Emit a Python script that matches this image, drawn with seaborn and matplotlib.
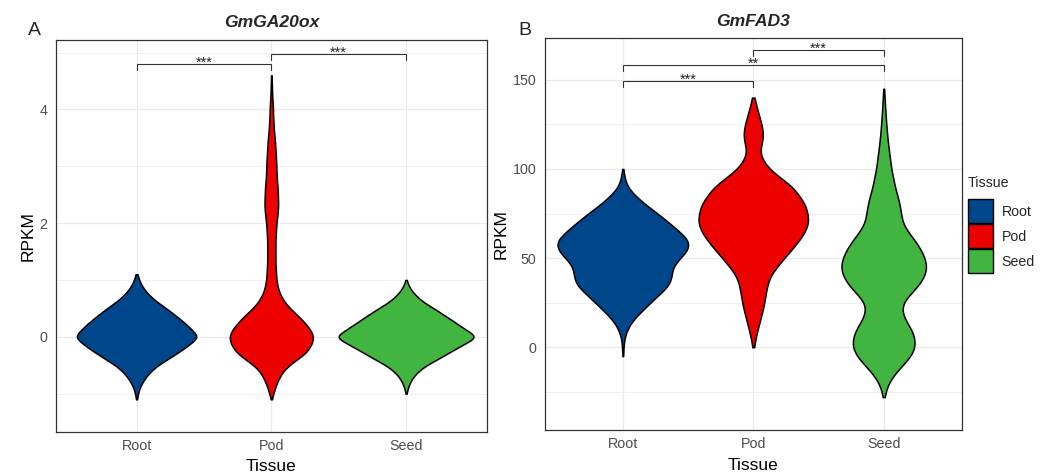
import numpy as np
import pandas as pd
import matplotlib
matplotlib.use("Agg")
import matplotlib.pyplot as plt
from matplotlib.patches import Patch
from matplotlib.ticker import FixedLocator
import seaborn as sns

TISSUES = ["Root", "Pod", "Seed"]
COLORS = ["#00468B", "#ED0000", "#42B540"]

# Panel A: GmGA20ox
A_ROOT_RPKM = [-1.1, -1.0, -0.9, -0.8, -0.7, -0.6, -0.5, -0.4, -0.3, -0.2, -0.1, 0.0,
               0.1, 0.2, 0.3, 0.4, 0.5, 0.6, 0.7, 0.8, 0.9, 1.0, 1.1]
A_ROOT_COUNT = [1, 4, 8, 16, 26, 40, 58, 84, 108, 132, 152, 172,
                156, 140, 122, 102, 82, 59, 40, 25, 14, 7, 2]

A_POD_RPKM = [-1.1, -1.0, -0.9, -0.8, -0.7, -0.6, -0.5, -0.4, -0.3, -0.2, -0.1, 0.0,
              0.1, 0.2, 0.3, 0.4, 0.5, 0.6, 0.7, 0.8, 0.9, 1.0,
              1.1, 1.2, 1.3, 1.4, 1.5, 1.6, 1.7, 1.8, 1.9, 2.0,
              2.1, 2.2, 2.3, 2.4, 2.5, 2.6, 2.7, 2.8, 2.9, 3.0,
              3.1, 3.2, 3.3, 3.4, 3.5, 3.6, 3.7, 3.8, 3.9, 4.0,
              4.1, 4.2, 4.3, 4.4, 4.5, 4.6]
A_POD_COUNT = [1, 6, 11, 17, 25, 35, 52, 75, 98, 112, 120, 124,
               117, 105, 90, 73, 55, 40, 30, 22, 18, 15,
               14, 13, 12, 12, 12, 12, 12, 13, 14, 15,
               17, 19, 20, 20, 19, 19, 17, 16, 15, 15,
               14, 13, 12, 11, 10, 8, 7, 6, 5, 5,
               4, 3, 2, 2, 1, 1]

A_SEED_RPKM = [-1.0, -0.9, -0.8, -0.7, -0.6, -0.5, -0.4, -0.3, -0.2, -0.1, 0.0,
               0.1, 0.2, 0.3, 0.4, 0.5, 0.6, 0.7, 0.8, 0.9, 1.0]
A_SEED_COUNT = [1, 5, 11, 21, 36, 58, 89, 117, 146, 175, 208,
                178, 154, 130, 105, 80, 52, 32, 17, 7, 1]

# Panel B: GmFAD3
B_ROOT_RPKM = [-5, 0, 5, 10, 15, 20, 25, 30, 35, 40, 45, 50, 55, 60, 65, 70, 75, 80, 85, 90, 95, 100]
B_ROOT_COUNT = [1, 2, 4, 12, 27, 52, 78, 105, 133, 139, 140, 162, 188, 188, 160, 130, 99, 64, 35, 12, 5, 1]

B_POD_RPKM = [0, 5, 10, 15, 20, 25, 30, 35, 40, 45, 50, 55, 60, 65, 70, 75, 80, 85, 90, 95,
              100, 105, 110, 115, 120, 125, 130, 135, 140]
B_POD_COUNT = [2, 7, 13, 20, 27, 33, 37, 42, 50, 70, 92, 115, 137, 155, 165, 162, 155, 137, 117, 82,
               47, 28, 18, 27, 30, 25, 17, 10, 3]

B_SEED_RPKM = [-28, -25, -20, -15, -10, -5, 0, 5, 10, 15, 20, 25, 30, 35, 40, 45, 50, 55, 60, 65,
               70, 75, 80, 85, 90, 95, 100, 105, 110, 115, 120, 125, 130, 135, 140, 145]
B_SEED_COUNT = [1, 5, 15, 33, 58, 83, 96, 95, 85, 67, 55, 58, 82, 108, 125, 132, 126, 113, 95, 73,
                57, 53, 49, 42, 34, 29, 23, 20, 16, 13, 10, 8, 6, 4, 3, 1]

# significance brackets
A_SIG_PAIRS = [("Root", "Pod"), ("Pod", "Seed")]
A_SIG_Y = [4.80, 4.97]
A_SIG_LABELS = ["***", "***"]
B_SIG_PAIRS = [("Root", "Pod"), ("Root", "Seed"), ("Pod", "Seed")]
B_SIG_Y = [149.4, 158.1, 166.7]
B_SIG_LABELS = ["***", "**", "***"]

# axes
A_YTICKS = [0, 2, 4]
A_YMINOR = [-1, 1, 3, 5]
A_YLIM = (-1.68, 5.22)
B_YTICKS = [0, 50, 100, 150]
B_YMINOR = [-25, 25, 75, 125]
B_YLIM = (-46.7, 173.3)

# ---------------- style ----------------
sns.set_style("white")
plt.rcParams["font.family"] = ["Liberation Sans", "DejaVu Sans"]

GRID = "#EBEBEB"
DARK = "#333333"
TICKTXT = "#4D4D4D"


def long_form(levels, counts):
    tissue = np.concatenate([np.repeat(t, sum(c)) for t, c in zip(TISSUES, counts)])
    rpkm = np.concatenate([np.repeat(np.asarray(l, float), c) for l, c in zip(levels, counts)])
    return pd.DataFrame({"Tissue": tissue, "RPKM": rpkm})


def fixed_bw(h):
    return lambda kde: h / np.std(kde.dataset, ddof=1)


def panel(ax, df, bw, title, yticks, yminor, ylim, pairs, ys, labels):
    ax.set_axisbelow(True)
    sns.violinplot(data=df, x="Tissue", y="RPKM", hue="Tissue", order=TISSUES,
                   hue_order=TISSUES, palette=dict(zip(TISSUES, COLORS)), saturation=1,
                   inner=None, cut=0, gridsize=400, bw_method=fixed_bw(bw),
                   density_norm="area", common_norm=True, width=1.0, dodge=False,
                   linewidth=1.1, linecolor="black", legend=False, ax=ax)
    ax.set_xlim(-0.6, 2.6)
    ax.set_ylim(*ylim)
    ax.yaxis.set_major_locator(FixedLocator(yticks))
    ax.yaxis.set_minor_locator(FixedLocator(yminor))
    ax.set_yticklabels([str(t) for t in yticks])
    ax.grid(which="major", axis="both", color=GRID, lw=0.9)
    ax.grid(which="minor", axis="y", color=GRID, lw=0.55)
    ax.tick_params(which="minor", length=0)
    ax.tick_params(which="major", length=3.2, width=0.8, color=DARK,
                   labelsize=10.3, labelcolor=TICKTXT)
    ax.tick_params(axis="x", pad=1.8)
    ax.tick_params(axis="y", pad=2.8)
    for s in ax.spines.values():
        s.set_visible(True)
        s.set_color(DARK)
        s.set_linewidth(0.9)
    ax.set_xlabel("Tissue", fontsize=12.5, color="black", labelpad=4.5)
    ax.set_ylabel("RPKM", fontsize=12.5, color="black", labelpad=2.6)
    ax.set_title(title, fontsize=12.6, fontweight="bold", fontstyle="italic", pad=9)

    tick = 0.0155 * (ylim[1] - ylim[0])
    for (a, b), y, lab in zip(pairs, ys, labels):
        xa, xb = TISSUES.index(a), TISSUES.index(b)
        ax.plot([xa, xa, xb, xb], [y - tick, y, y, y - tick], color=DARK, lw=0.8,
                solid_joinstyle="miter", zorder=5)
        ax.annotate(lab, xy=((xa + xb) / 2, y), xytext=(0, -2), textcoords="offset points",
                    ha="center", va="baseline", fontsize=10.5, color="#222222", zorder=6)


fig = plt.figure(figsize=(10.47, 4.75), dpi=100)
axA = fig.add_axes([0.0532, 0.0899, 0.4119, 0.8259])
axB = fig.add_axes([0.5201, 0.0937, 0.3987, 0.8257])

dfA = long_form([A_ROOT_RPKM, A_POD_RPKM, A_SEED_RPKM], [A_ROOT_COUNT, A_POD_COUNT, A_SEED_COUNT])
dfB = long_form([B_ROOT_RPKM, B_POD_RPKM, B_SEED_RPKM], [B_ROOT_COUNT, B_POD_COUNT, B_SEED_COUNT])

panel(axA, dfA, 0.07, "GmGA20ox", A_YTICKS, A_YMINOR, A_YLIM, A_SIG_PAIRS, A_SIG_Y, A_SIG_LABELS)
panel(axB, dfB, 3.5, "GmFAD3", B_YTICKS, B_YMINOR, B_YLIM, B_SIG_PAIRS, B_SIG_Y, B_SIG_LABELS)

fig.text(28 / 1047, 1 - 35 / 475, "A", fontsize=14, va="baseline", ha="left")
fig.text(518 / 1047, 1 - 35 / 475, "B", fontsize=14, va="baseline", ha="left")

# legend
handles = [Patch(facecolor=c, edgecolor="black", linewidth=1.0) for c in COLORS]
fig.text(968 / 1047, 1 - 187 / 475, "Tissue", fontsize=10.2, va="baseline", ha="left")
fig.legend(handles, TISSUES, loc="upper left", bbox_to_anchor=(968 / 1047, 1 - 199.3 / 475),
           frameon=False, fontsize=10.2, handlelength=1.76, handleheight=2.23,
           handletextpad=0.61, labelspacing=0.07, borderpad=0, borderaxespad=0)

fig.savefig("out.png", dpi=100)
